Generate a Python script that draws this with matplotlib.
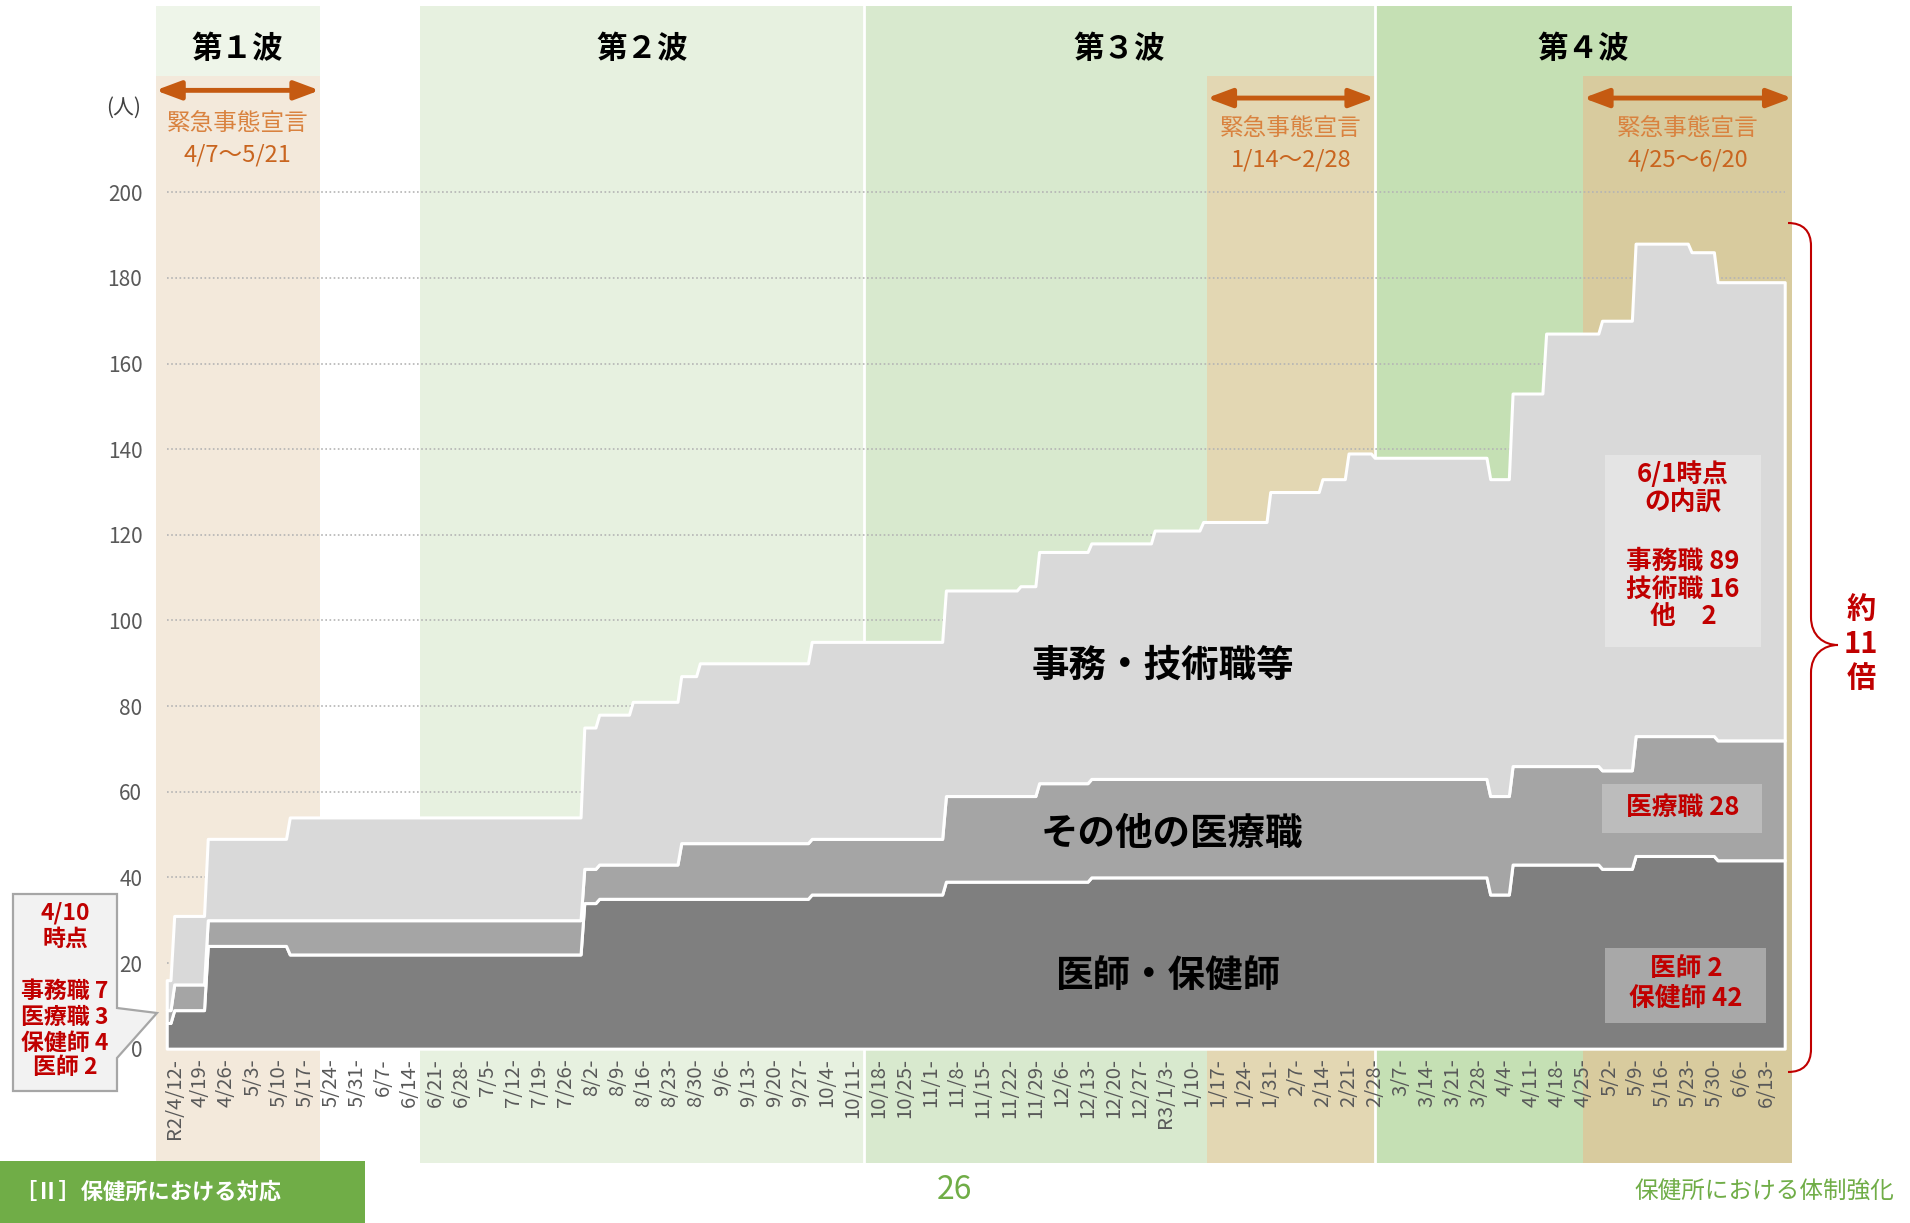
import matplotlib
matplotlib.use("Agg")
import matplotlib.pyplot as plt
import matplotlib.dates as mdates
import matplotlib.patches as mpatches
from matplotlib.path import Path
import pandas as pd

plt.rcParams['font.family'] = ['Noto Sans CJK JP', 'DejaVu Sans']

# 応援職員数：人数が変わった日と、その日以降の職種別人数
change_dates = ["2020-04-10", "2020-04-12", "2020-04-21", "2020-05-13", "2020-07-31",
                "2020-08-04", "2020-08-13", "2020-08-26", "2020-08-31", "2020-09-30",
                "2020-11-05", "2020-11-25", "2020-11-30", "2020-12-14", "2020-12-31",
                "2021-01-13", "2021-01-31", "2021-02-14", "2021-02-21", "2021-02-28",
                "2021-03-31", "2021-04-06", "2021-04-15", "2021-04-30", "2021-05-09",
                "2021-05-24", "2021-05-31"]
doctor_nurse = [6, 9, 24, 22, 34, 35, 35, 35, 35, 36, 39, 39, 39, 40, 40,
                40, 40, 40, 40, 40, 36, 43, 43, 42, 45, 45, 44]
other_medical = [3, 6, 6, 8, 8, 8, 8, 13, 13, 13, 20, 20, 23, 23, 23,
                 23, 23, 23, 23, 23, 23, 23, 23, 23, 28, 28, 28]
office_tech = [7, 16, 19, 24, 33, 35, 38, 39, 42, 46, 48, 49, 54, 55, 58,
               60, 67, 70, 76, 75, 74, 87, 101, 105, 115, 113, 107]
last_date = "2021-06-18"

tick_labels = ["R2/4/12-", "4/19-", "4/26-", "5/3-", "5/10-", "5/17-", "5/24-", "5/31-",
               "6/7-", "6/14-", "6/21-", "6/28-", "7/5-", "7/12-", "7/19-", "7/26-",
               "8/2-", "8/9-", "8/16-", "8/23-", "8/30-", "9/6-", "9/13-", "9/20-",
               "9/27-", "10/4-", "10/11-", "10/18-", "10/25-", "11/1-", "11/8-", "11/15-",
               "11/22-", "11/29-", "12/6-", "12/13-", "12/20-", "12/27-", "R3/1/3-", "1/10-",
               "1/17-", "1/24-", "1/31-", "2/7-", "2/14-", "2/21-", "2/28-", "3/7-",
               "3/14-", "3/21-", "3/28-", "4/4-", "4/11-", "4/18-", "4/25-", "5/2-",
               "5/9-", "5/16-", "5/23-", "5/30-", "6/6-", "6/13-"]

wave_names = ["第１波", "第２波", "第３波", "第４波"]
wave_start = ["2020-04-07", "2020-06-17", "2020-10-14", "2021-02-28"]
wave_end = ["2020-05-21", "2020-10-14", "2021-02-28", "2021-06-20"]
wave_colors = ["#eef5e9", "#e7f1e0", "#d8e9ce", "#c5e0b4"]

emergency_start = ["2020-04-07", "2021-01-14", "2021-04-25"]
emergency_end = ["2020-05-21", "2021-02-28", "2021-06-20"]
emergency_labels = ["4/7〜5/21", "1/14〜2/28", "4/25〜6/20"]
emergency_colors = ["#f3e9db", "#e3d7b3", "#d8cb9e"]

W, H = 1910, 1223


def fx(px):
    return px / W


def fy(py):
    return 1 - py / H


def dnum(s):
    return mdates.date2num(pd.Timestamp(s))


# 日次に展開して積み上げ
days = pd.date_range(change_dates[0], last_date, freq="D")
idx = pd.to_datetime(change_dates)
s_doc = pd.Series(doctor_nurse, index=idx).reindex(days, method="ffill")
s_med = pd.Series(other_medical, index=idx).reindex(days, method="ffill")
s_off = pd.Series(office_tech, index=idx).reindex(days, method="ffill")
x = mdates.date2num(days)
y1 = s_doc.values
y2 = y1 + s_med.values
y3 = y2 + s_off.values

fig = plt.figure(figsize=(W / 100, H / 100), dpi=100)
ax = fig.add_axes([fx(150), 1 - 1163 / H, 1650 / W, 1157 / H])
ax.spines["bottom"].set_position(("data", 0))
for sp in ax.spines.values():
    sp.set_visible(False)
ax.patch.set_alpha(0)

d0 = dnum("2020-04-12")
ax.set_xlim(d0 - 6.49, d0 + 436.1)
ylo, yhi = -26.7, 243.5
ax.set_ylim(ylo, yhi)

# 波の期間と緊急事態宣言の期間
for name, a, b, c in zip(wave_names, wave_start, wave_end, wave_colors):
    ax.axvspan(dnum(a), dnum(b), color=c, lw=0, zorder=0.2)
    ax.text((dnum(a) + dnum(b)) / 2, 233.5, name, ha="center", va="center",
            fontsize=22, fontweight="bold", color="black", zorder=4)
for b in wave_end[1:3]:
    ax.axvline(dnum(b), color="white", lw=2, zorder=0.4)

e_top = 227.2
e_frac = (e_top - ylo) / (yhi - ylo)
for a, b, lab, c in zip(emergency_start, emergency_end, emergency_labels, emergency_colors):
    xa, xb = dnum(a), dnum(b)
    ax.axvspan(xa, xb, ymin=0, ymax=e_frac, color=c, lw=0, zorder=0.3)
    ya = 223.8 if a.startswith("2020") else 222.0
    ax.annotate("", xy=(xb, ya), xytext=(xa, ya),
                arrowprops=dict(arrowstyle="<|-|>,head_length=0.75,head_width=0.28",
                                color="#c55a11", lw=3.5, shrinkA=0, shrinkB=0,
                                mutation_scale=20), zorder=4)
    yt = 216.0 if a.startswith("2020") else 214.8
    ax.text((xa + xb) / 2, yt, "緊急事態宣言", ha="center", va="center",
            fontsize=17, color="#d9823f", zorder=4)
    ax.text((xa + xb) / 2, yt - 7.2, lab, ha="center", va="center",
            fontsize=17, color="#c9651f", zorder=4)

# 目盛線
ax.hlines(range(20, 201, 20), x[0], x[-1], colors="#b4b4b4",
          linestyles=(0, (1, 1.5)), lw=1.2, zorder=1)

# 積み上げ面
ax.fill_between(x, 0, y1, facecolor="#7f7f7f", edgecolor="white", lw=2.2, zorder=2)
ax.fill_between(x, y1, y2, facecolor="#a5a5a5", edgecolor="white", lw=2.2, zorder=2)
ax.fill_between(x, y2, y3, facecolor="#d9d9d9", edgecolor="white", lw=2.2, zorder=2)

ticks = mdates.date2num(pd.date_range("2020-04-12", "2021-06-13", freq="7D"))
ax.set_xticks(ticks)
ax.set_xticklabels(tick_labels, fontsize=14.6, color="#595959")
ax.set_yticks(range(0, 201, 20))
ax.set_yticklabels([str(v) for v in range(0, 201, 20)], fontsize=15, color="#595959")
ax.tick_params(axis="x", length=0, pad=7, labelrotation=90)
ax.tick_params(axis="y", length=0, pad=5.5)

fig.text(fx(124), fy(108), "(人)", ha="center", va="center", fontsize=15, color="#404040")

# 面の名称
for txt, px, py in [("事務・技術職等", 1163, 665), ("その他の医療職", 1172, 833),
                    ("医師・保健師", 1169, 976)]:
    fig.text(fx(px), fy(py), txt, ha="center", va="center", fontsize=27,
             fontweight="bold", color="black")

red = "#c00000"

# 4/10時点の吹き出し
callout = [(13, 894), (117, 894), (117, 1008), (157, 1013), (117, 1058),
           (117, 1091), (13, 1091)]
fig.add_artist(mpatches.Polygon([(fx(a), fy(b)) for a, b in callout], closed=True,
                                transform=fig.transFigure, facecolor="#f2f2f2",
                                edgecolor="#a6a6a6", lw=1.6))
for txt, py in [("4/10", 913), ("時点", 939), ("事務職 7", 991), ("医療職 3", 1017),
                ("保健師 4", 1043), ("医師 2", 1068)]:
    fig.text(fx(65), fy(py), txt, ha="center", va="center", fontsize=16.5,
             fontweight="bold", color=red)

# 6/1時点の内訳
for (l, t, r, b), c in [((1605, 455, 1761, 647), "#e4e4e4"),
                        ((1602, 784, 1762, 833), "#bcbcbc"),
                        ((1605, 948, 1766, 1023), "#a8a8a8")]:
    fig.add_artist(mpatches.Rectangle((fx(l), fy(b)), (r - l) / W, (b - t) / H,
                                      transform=fig.transFigure, facecolor=c, lw=0))
for txt, px, py in [("6/1時点", 1683, 474), ("の内訳", 1683, 502),
                    ("事務職 89", 1683, 561), ("技術職 16", 1683, 589),
                    ("他　2", 1683, 617), ("医療職 28", 1683, 807),
                    ("医師 2", 1686, 969), ("保健師 42", 1686, 998)]:
    fig.text(fx(px), fy(py), txt, ha="center", va="center", fontsize=18.5,
             fontweight="bold", color=red)

# 右側の中括弧
pts = [(1788, 223), (1803, 223), (1811, 231), (1811, 246),
       (1811, 617),
       (1811, 636), (1824, 645), (1838, 645),
       (1824, 645), (1811, 654), (1811, 673),
       (1811, 1049),
       (1811, 1064), (1803, 1072), (1788, 1072)]
codes = [Path.MOVETO, Path.CURVE4, Path.CURVE4, Path.CURVE4, Path.LINETO,
         Path.CURVE4, Path.CURVE4, Path.CURVE4, Path.CURVE4, Path.CURVE4, Path.CURVE4,
         Path.LINETO, Path.CURVE4, Path.CURVE4, Path.CURVE4]
fig.add_artist(mpatches.PathPatch(Path([(fx(a), fy(b)) for a, b in pts], codes),
                                  transform=fig.transFigure, fill=False,
                                  edgecolor=red, lw=1.5))
for txt, py in [("約", 609), ("11", 644), ("倍", 678)]:
    fig.text(fx(1861), fy(py), txt, ha="center", va="center", fontsize=21,
             fontweight="bold", color=red)

# フッター
green = "#70ad47"
fig.add_artist(mpatches.Rectangle((0, 0), 365 / W, (H - 1161) / H,
                                  transform=fig.transFigure, facecolor=green, lw=0))
fig.text(fx(14), fy(1192), "［Ⅱ］保健所における対応", ha="left", va="center",
         fontsize=16, fontweight="bold", color="white")
fig.text(fx(954), fy(1190), "26", ha="center", va="center", fontsize=23, color=green)
fig.text(fx(1894), fy(1192), "保健所における体制強化", ha="right", va="center",
         fontsize=17, color=green)

fig.savefig("out.png", dpi=100)
